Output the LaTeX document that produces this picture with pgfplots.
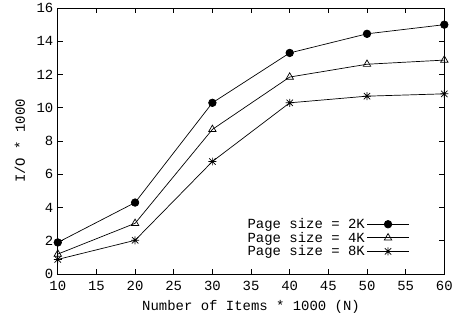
\documentclass[border=0pt]{standalone}
\usepackage{pgfplots}
\pgfplotsset{compat=1.18}
\usepackage{fontspec}
\setmainfont{Liberation Mono}
\setmonofont{Liberation Mono}
\pgfdeclareplotmark{gpstar}{%
  \pgfpathmoveto{\pgfqpoint{-\pgfplotmarksize}{0pt}}\pgfpathlineto{\pgfqpoint{\pgfplotmarksize}{0pt}}%
  \pgfpathmoveto{\pgfqpoint{0pt}{-\pgfplotmarksize}}\pgfpathlineto{\pgfqpoint{0pt}{\pgfplotmarksize}}%
  \pgfpathmoveto{\pgfqpoint{-0.8\pgfplotmarksize}{-0.8\pgfplotmarksize}}\pgfpathlineto{\pgfqpoint{0.8\pgfplotmarksize}{0.8\pgfplotmarksize}}%
  \pgfpathmoveto{\pgfqpoint{-0.8\pgfplotmarksize}{0.8\pgfplotmarksize}}\pgfpathlineto{\pgfqpoint{0.8\pgfplotmarksize}{-0.8\pgfplotmarksize}}%
  \pgfusepathqstroke}
\begin{document}
\begin{tikzpicture}
\begin{axis}[
  scale only axis,
  width=388pt, height=267pt,
  xmin=10, xmax=60, ymin=0, ymax=16,
  xtick={10,15,...,60}, ytick={0,2,...,16},
  tick align=inside,
  major tick length=5pt,
  tick style={black, line width=0.6pt},
  axis line style={line width=1pt},
  /pgf/number format/assume math mode=true,
  tick label style={font=\fontsize{14}{15}\selectfont},
  xticklabel style={yshift=-4pt},
  yticklabel style={xshift=-1pt},
  label style={font=\fontsize{14}{15}\selectfont},
  xlabel={Number of Items * 1000 (N)},
  ylabel={I/O * 1000},
  xlabel style={at={(axis description cs:0.5,-0.124)}, anchor=center},
  ylabel style={at={(axis description cs:-0.098,0.5)}, anchor=center},
  every axis plot/.append style={black, line width=0.7pt},
  legend style={draw=none, fill=none, at={(0.91,0.055)}, anchor=south east,
    font=\fontsize{14}{14}\selectfont, row sep=-2pt, inner sep=0pt},
  legend cell align=right,
  legend plot pos=right,
  legend image code/.code={\draw[mark repeat=2,mark phase=2,#1] plot coordinates {(0pt,0pt) (21pt,0pt) (42pt,0pt)};},
]
\addplot[mark=*, mark size=3.8pt, mark options={fill=black}] coordinates {
(10,1.9) (20,4.3) (30,10.3) (40,13.3) (50,14.45) (60,15.0)};
\addlegendentry{Page size = 2K}
\addplot[mark=triangle, mark size=4.3pt] coordinates {
(10,1.2) (20,3.05) (30,8.7) (40,11.85) (50,12.62) (60,12.87)};
\addlegendentry{Page size = 4K}
\addplot[mark=gpstar, mark size=4pt] coordinates {
(10,0.88) (20,2.03) (30,6.77) (40,10.3) (50,10.7) (60,10.84)};
\addlegendentry{Page size = 8K}
\end{axis}
\path (current axis.south west) ++(-58pt,-47pt) coordinate (bbA);
\path (current axis.north east) ++(10pt,7pt) coordinate (bbB);
\end{tikzpicture}
\end{document}
